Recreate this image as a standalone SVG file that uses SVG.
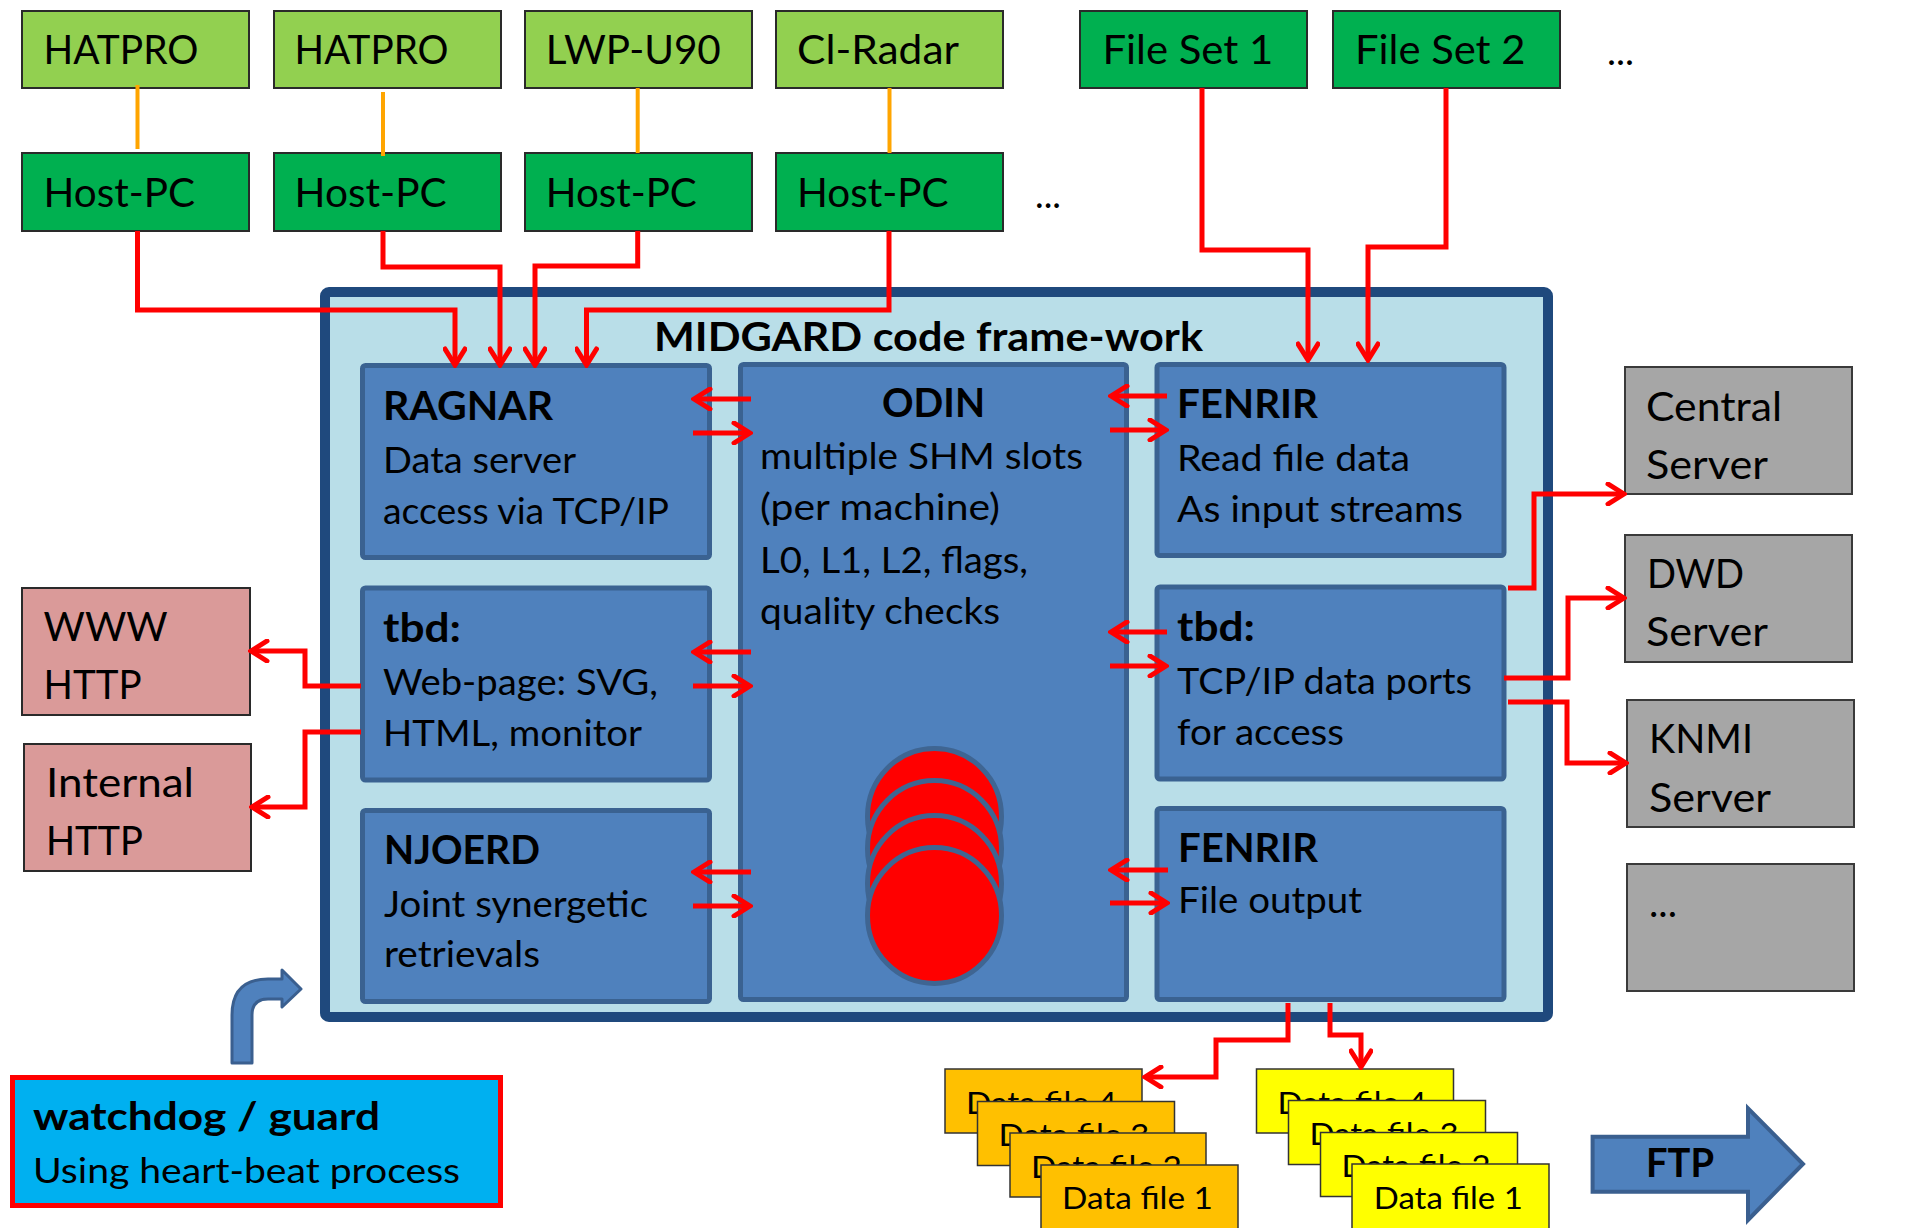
<svg xmlns="http://www.w3.org/2000/svg" width="1915" height="1228" viewBox="0 0 1915 1228">
<style>
text{font-family:Lato,"Open Sans",sans-serif;fill:#000}
.t41{font-size:41px}
.b41{font-size:41px;font-weight:bold}
.b{font-weight:bold}
.t36{font-size:36px}
.t40{font-size:40px}
.t32{font-size:31.5px}
.lg{fill:#92D050;stroke:#2a2a2a;stroke-width:2}
.dg{fill:#00B050;stroke:#2a2a2a;stroke-width:2}
.gr{fill:#A6A6A6;stroke:#3a3a3a;stroke-width:2}
.pk{fill:#DA9A99;stroke:#2a2a2a;stroke-width:2}
.ib{fill:#4F81BD;stroke:#3A6291;stroke-width:5}
.or{fill:#FFC000;stroke:#333;stroke-width:1.5}
.ye{fill:#FFFF00;stroke:#333;stroke-width:1.5}
.rl{fill:none;stroke:#FF0000;stroke-width:5;stroke-linejoin:miter}
.ra{fill:none;stroke:#FF0000;stroke-width:5;marker-end:url(#ah)}
.ol{fill:none;stroke:#FFA500;stroke-width:4}
.ell{fill:#FF0000;stroke:#3F6592;stroke-width:5}
</style>
<defs>
<marker id="ah" viewBox="0 0 22 24" refX="19" refY="12" markerWidth="22" markerHeight="24" markerUnits="userSpaceOnUse" orient="auto">
<path d="M3,2 L19,12 L3,22" fill="none" stroke="#FF0000" stroke-width="5" stroke-linecap="round"/>
</marker>
</defs>
<rect width="1915" height="1228" fill="#FFFFFF"/>

<g id="frame">
<rect x="325" y="292" width="1223" height="725" rx="4" fill="#B9DEE8" stroke="#1F497D" stroke-width="10"/>
<text x="654" y="351" class="b" font-size="40" textLength="549" lengthAdjust="spacingAndGlyphs">MIDGARD code frame-work</text>
</g>

<g id="hatpro1"><rect x="22" y="11" width="227" height="77" class="lg"/><text x="43.5" y="64.3" class="t41" textLength="155" lengthAdjust="spacingAndGlyphs">HATPRO</text></g>
<g id="hatpro2"><rect x="274" y="11" width="227" height="77" class="lg"/><text x="294.6" y="64.3" class="t41" textLength="154" lengthAdjust="spacingAndGlyphs">HATPRO</text></g>
<g id="lwp"><rect x="525" y="11" width="227" height="77" class="lg"/><text x="545.8" y="64.3" class="t41" textLength="175" lengthAdjust="spacingAndGlyphs">LWP-U90</text></g>
<g id="clradar"><rect x="776" y="11" width="227" height="77" class="lg"/><text x="797" y="64.3" class="t41" textLength="162" lengthAdjust="spacingAndGlyphs">Cl-Radar</text></g>
<g id="host1"><rect x="22" y="153" width="227" height="78" class="dg"/><text x="43.5" y="207.3" class="t41" textLength="151.5" lengthAdjust="spacingAndGlyphs">Host-PC</text></g>
<g id="host2"><rect x="274" y="153" width="227" height="78" class="dg"/><text x="294.6" y="207.3" class="t41" textLength="152" lengthAdjust="spacingAndGlyphs">Host-PC</text></g>
<g id="host3"><rect x="525" y="153" width="227" height="78" class="dg"/><text x="545.8" y="207.3" class="t41" textLength="151" lengthAdjust="spacingAndGlyphs">Host-PC</text></g>
<g id="host4"><rect x="776" y="153" width="227" height="78" class="dg"/><text x="797" y="207.3" class="t41" textLength="151.5" lengthAdjust="spacingAndGlyphs">Host-PC</text></g>
<g id="hostmore"><text x="1035" y="208" class="t36" textLength="26" lengthAdjust="spacingAndGlyphs">...</text></g>
<g id="fileset1"><rect x="1080" y="11" width="227" height="77" class="dg"/><text x="1102.4" y="64.3" class="t41" textLength="171" lengthAdjust="spacingAndGlyphs">File Set 1</text></g>
<g id="fileset2"><rect x="1333" y="11" width="227" height="77" class="dg"/><text x="1355" y="64.3" class="t41" textLength="170.5" lengthAdjust="spacingAndGlyphs">File Set 2</text></g>
<g id="filesetmore"><text x="1607" y="65" class="t36" textLength="27" lengthAdjust="spacingAndGlyphs">...</text></g>

<g id="ragnar"><rect x="362.5" y="365.5" width="347" height="192" rx="3" class="ib"/>
<text x="383" y="420" class="b41" textLength="170" lengthAdjust="spacingAndGlyphs">RAGNAR</text>
<text x="383" y="473" class="t36" textLength="193" lengthAdjust="spacingAndGlyphs">Data server</text>
<text x="383" y="524" class="t36" textLength="286" lengthAdjust="spacingAndGlyphs">access via TCP/IP</text></g>

<g id="webtbd"><rect x="362.5" y="588" width="347" height="192" rx="3" class="ib"/>
<text x="383" y="642" class="b41" textLength="78" lengthAdjust="spacingAndGlyphs">tbd:</text>
<text x="383" y="695" class="t36" textLength="275" lengthAdjust="spacingAndGlyphs">Web-page: SVG,</text>
<text x="383" y="746" class="t36" textLength="259" lengthAdjust="spacingAndGlyphs">HTML, monitor</text></g>

<g id="njoerd"><rect x="362.5" y="810.5" width="347" height="191" rx="3" class="ib"/>
<text x="384" y="864" class="b41" textLength="156" lengthAdjust="spacingAndGlyphs">NJOERD</text>
<text x="384" y="917" class="t36" textLength="264" lengthAdjust="spacingAndGlyphs">Joint synergetic</text>
<text x="384" y="967" class="t36" textLength="156" lengthAdjust="spacingAndGlyphs">retrievals</text></g>

<g id="odin"><rect x="740.5" y="364.5" width="386" height="635" rx="3" class="ib"/>
<text x="882" y="417" class="b41" textLength="103" lengthAdjust="spacingAndGlyphs">ODIN</text>
<text x="760" y="469" class="t36" textLength="323" lengthAdjust="spacingAndGlyphs">multiple SHM slots</text>
<text x="760" y="520" class="t36" textLength="240" lengthAdjust="spacingAndGlyphs">(per machine)</text>
<text x="760" y="573" class="t36" textLength="268" lengthAdjust="spacingAndGlyphs">L0, L1, L2, flags,</text>
<text x="760" y="624" class="t36" textLength="240" lengthAdjust="spacingAndGlyphs">quality checks</text>
<ellipse cx="934.5" cy="816.5" rx="67" ry="68" class="ell"/>
<ellipse cx="934.5" cy="848.5" rx="67" ry="68" class="ell"/>
<ellipse cx="934.5" cy="883.5" rx="67" ry="68" class="ell"/>
<ellipse cx="934.5" cy="915.5" rx="67" ry="68" class="ell"/>
</g>

<g id="fenrir1"><rect x="1157" y="364.5" width="347" height="191" rx="3" class="ib"/>
<text x="1177" y="417.5" class="b41" textLength="141" lengthAdjust="spacingAndGlyphs">FENRIR</text>
<text x="1177" y="471" class="t36" textLength="233" lengthAdjust="spacingAndGlyphs">Read file data</text>
<text x="1177" y="522" class="t36" textLength="286" lengthAdjust="spacingAndGlyphs">As input streams</text></g>

<g id="tcptbd"><rect x="1157" y="587" width="347" height="192" rx="3" class="ib"/>
<text x="1177" y="641" class="b41" textLength="78" lengthAdjust="spacingAndGlyphs">tbd:</text>
<text x="1177" y="694" class="t36" textLength="295" lengthAdjust="spacingAndGlyphs">TCP/IP data ports</text>
<text x="1177" y="745" class="t36" textLength="167" lengthAdjust="spacingAndGlyphs">for access</text></g>

<g id="fenrir2"><rect x="1157" y="808.5" width="347" height="191" rx="3" class="ib"/>
<text x="1178" y="862" class="b41" textLength="140" lengthAdjust="spacingAndGlyphs">FENRIR</text>
<text x="1178" y="913" class="t36" textLength="184" lengthAdjust="spacingAndGlyphs">File output</text></g>

<g id="central"><rect x="1625" y="367" width="227" height="127" class="gr"/>
<text x="1646" y="420.5" class="t41" textLength="136" lengthAdjust="spacingAndGlyphs">Central</text>
<text x="1646" y="478.5" class="t41" textLength="122" lengthAdjust="spacingAndGlyphs">Server</text></g>
<g id="dwd"><rect x="1625" y="535" width="227" height="127" class="gr"/>
<text x="1647" y="588" class="t41" textLength="97" lengthAdjust="spacingAndGlyphs">DWD</text>
<text x="1646" y="646" class="t41" textLength="122" lengthAdjust="spacingAndGlyphs">Server</text></g>
<g id="knmi"><rect x="1627" y="700" width="227" height="127" class="gr"/>
<text x="1649" y="753" class="t41" textLength="104" lengthAdjust="spacingAndGlyphs">KNMI</text>
<text x="1649" y="811.5" class="t41" textLength="122" lengthAdjust="spacingAndGlyphs">Server</text></g>
<g id="servermore"><rect x="1627" y="864" width="227" height="127" class="gr"/>
<text x="1649" y="917" class="t41" textLength="28" lengthAdjust="spacingAndGlyphs">...</text></g>

<g id="www"><rect x="22" y="588" width="228" height="127" class="pk"/>
<text x="43.6" y="641" class="t40" textLength="124" lengthAdjust="spacingAndGlyphs">WWW</text>
<text x="43.6" y="698.6" class="t40" textLength="98" lengthAdjust="spacingAndGlyphs">HTTP</text></g>
<g id="internal"><rect x="24" y="744" width="227" height="127" class="pk"/>
<text x="46" y="797" class="t40" textLength="148" lengthAdjust="spacingAndGlyphs">Internal</text>
<text x="46" y="855" class="t40" textLength="97" lengthAdjust="spacingAndGlyphs">HTTP</text></g>

<g id="watchdog"><rect x="12.5" y="1077.5" width="488" height="128" fill="#00B0F0" stroke="#FF0000" stroke-width="5"/>
<text x="33" y="1130" class="b" font-size="39" textLength="347" lengthAdjust="spacingAndGlyphs">watchdog / guard</text>
<text x="33" y="1183" font-size="35" textLength="427" lengthAdjust="spacingAndGlyphs">Using heart-beat process</text></g>

<g id="bentarrow"><path d="M232 1063 L232 1015 Q232 979 268 979 L282 979 L282 970 L301 989 L282 1007 L282 999 L268 999 Q252 999 252 1015 L252 1063 Z" fill="#4F81BD" stroke="#3A5F8F" stroke-width="3" stroke-linejoin="round"/></g>

<g id="datafiles-orange">
<rect x="945" y="1069" width="197" height="64" class="or"/><text x="966" y="1113.5" class="t32" textLength="151" lengthAdjust="spacingAndGlyphs">Data file 4</text>
<rect x="977.5" y="1101.5" width="197" height="64" class="or"/><text x="998.5" y="1145.5" class="t32" textLength="151" lengthAdjust="spacingAndGlyphs">Data file 3</text>
<rect x="1010" y="1133" width="196" height="64" class="or"/><text x="1031" y="1177.5" class="t32" textLength="151" lengthAdjust="spacingAndGlyphs">Data file 2</text>
<rect x="1041" y="1165" width="197" height="68" class="or"/><text x="1062" y="1209.3" class="t32" textLength="151" lengthAdjust="spacingAndGlyphs">Data file 1</text>
</g>
<g id="datafiles-yellow">
<rect x="1256.5" y="1069" width="197" height="64" class="ye"/><text x="1277.5" y="1113.5" class="t32" textLength="149" lengthAdjust="spacingAndGlyphs">Data file 4</text>
<rect x="1288.5" y="1100.5" width="197" height="64" class="ye"/><text x="1309.5" y="1145" class="t32" textLength="149" lengthAdjust="spacingAndGlyphs">Data file 3</text>
<rect x="1320.5" y="1132.5" width="197" height="64" class="ye"/><text x="1341.5" y="1177" class="t32" textLength="149" lengthAdjust="spacingAndGlyphs">Data file 2</text>
<rect x="1352" y="1164" width="197" height="69" class="ye"/><text x="1373.8" y="1209.3" class="t32" textLength="149" lengthAdjust="spacingAndGlyphs">Data file 1</text>
</g>

<g id="ftp"><polygon points="1592.6,1136.7 1748,1136.7 1748,1108.3 1803,1164 1748,1220 1748,1191.7 1592.6,1191.7" fill="#4F81BD" stroke="#3A5F8F" stroke-width="4" stroke-linejoin="miter"/>
<text x="1646" y="1177" class="b" font-size="40" textLength="68" lengthAdjust="spacingAndGlyphs">FTP</text></g>

<g id="connectors">
<path class="ol" d="M137.5 85 V149 M383 92 V156 M637.7 88 V153 M889.5 88 V153"/>
<path class="ra" d="M137.5 231 V310 H455 V365"/>
<path class="ra" d="M383 231 V267 H500 V365"/>
<path class="ra" d="M637.7 231 V266 H535 V365"/>
<path class="ra" d="M889 231 V310 H586.5 V365"/>
<path class="ra" d="M1202 88 V250 H1308 V360"/>
<path class="ra" d="M1446 88 V247 H1368 V360"/>
<path class="ra" d="M751 399 H694"/>
<path class="ra" d="M693 433 H750"/>
<path class="ra" d="M751 652 H694"/>
<path class="ra" d="M693 686 H750"/>
<path class="ra" d="M751 872 H694"/>
<path class="ra" d="M693 906 H750"/>
<path class="ra" d="M1167 396 H1111"/>
<path class="ra" d="M1110 430 H1166"/>
<path class="ra" d="M1167 632 H1111"/>
<path class="ra" d="M1110 666 H1166"/>
<path class="ra" d="M1168 870 H1111"/>
<path class="ra" d="M1110 903 H1167"/>
<path class="ra" d="M1508 588 H1534 V494 H1624"/>
<path class="ra" d="M1504 678 H1568 V598 H1624"/>
<path class="ra" d="M1508 702 H1567 V763 H1626"/>
<path class="ra" d="M361 686 H305 V651 H251"/>
<path class="ra" d="M361 732 H305 V807 H252"/>
<path class="ra" d="M1288 1003 V1040 H1216 V1077 H1145"/>
<path class="ra" d="M1330 1003 V1035 H1361 V1067"/>
</g>
</svg>
